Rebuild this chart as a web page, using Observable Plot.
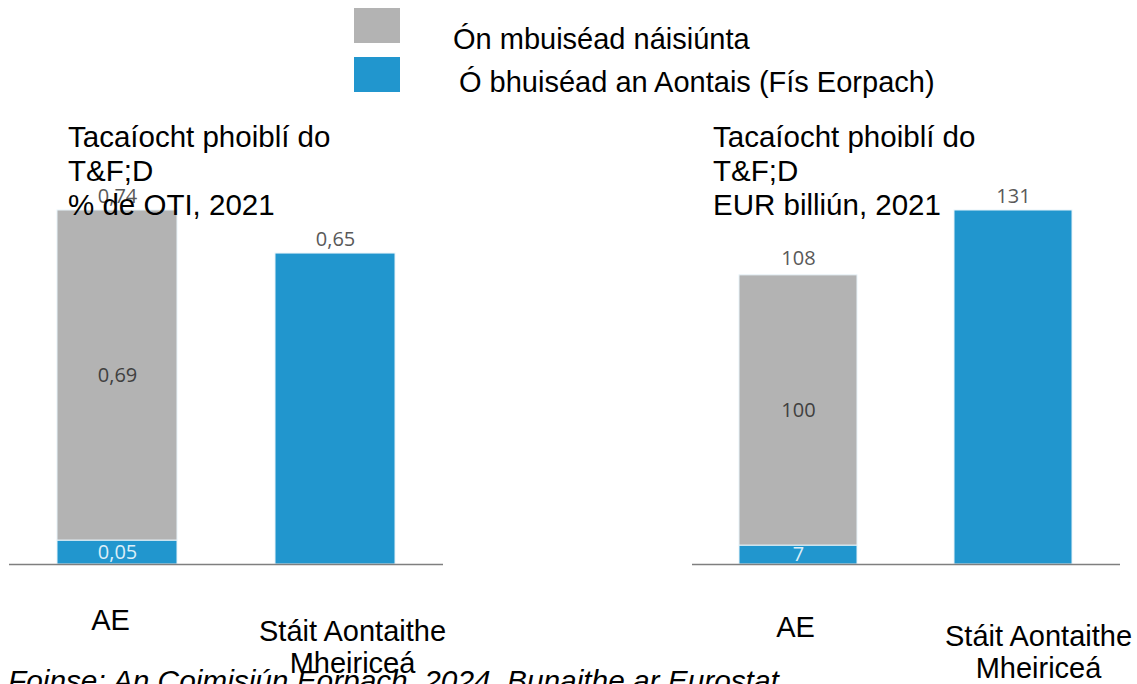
<!DOCTYPE html>
<html><head><meta charset="utf-8">
<script src="https://cdn.jsdelivr.net/npm/d3@7"></script>
<script src="https://cdn.jsdelivr.net/npm/@observablehq/plot@0.6"></script>
<style>
html,body{margin:0;padding:0;background:#fff;overflow:hidden;}
#root{position:relative;width:1137px;height:684px;overflow:hidden;font-family:"Liberation Sans",Arial,sans-serif;color:#000;}
.abs{position:absolute;white-space:pre;}
.big{font-size:29.5px;line-height:34px;z-index:3;}
.sw{position:absolute;width:46px;height:35px;}
</style></head><body><div id="root"></div>
<script>
const categories = ["AE", "Stáit Aontaithe Mheiriceá"];
const seriesNames = ["Ón mbuiséad náisiúnta", "Ó bhuiséad an Aontais (Fís Eorpach)"];
const seriesColors = ["#b3b3b3", "#2196ce"];
const pctNational = [0.69, 0];
const pctEU = [0.05, 0.65];
const pctTotal = [0.74, 0.65];
const eurNational = [100, 0];
const eurEU = [7, 131];
const eurTotal = [108, 131];
const titleLeft = ["Tacaíocht phoiblí do", "T&F;D", "% de OTI, 2021"];
const titleRight = ["Tacaíocht phoiblí do", "T&F;D", "EUR billiún, 2021"];
const sourceNote = "Foinse: An Coimisiún Eorpach, 2024. Bunaithe ar Eurostat";

const root = document.getElementById("root");
function addDiv(cls, text, left, top, extra) {
  const d = document.createElement("div");
  d.className = cls;
  d.textContent = text;
  d.style.left = left + "px";
  d.style.top = top + "px";
  if (extra) Object.assign(d.style, extra);
  root.appendChild(d);
  return d;
}

// Legend
seriesNames.forEach((s, i) => {
  const sw = document.createElement("div");
  sw.className = "sw";
  sw.style.left = "354px";
  sw.style.top = (8 + 49 * i) + "px";
  sw.style.background = seriesColors[i];
  root.appendChild(sw);
  addDiv("abs big", s, i === 0 ? 453 : 459, i === 0 ? 22 : 65, {fontSize: "29px"});
});

const fmtPct = v => v.toFixed(2).replace(".", ",");
const fmtEur = v => d3.format("d")(v);

function panel(nat, eu, tot, fmt, cfg) {
  const rows = [];
  categories.forEach((c, i) => {
    rows.push({cat: c, series: seriesNames[1], value: eu[i]});
    if (nat[i] > 0) rows.push({cat: c, series: seriesNames[0], value: nat[i]});
  });
  const multi = c => rows.filter(q => q.cat === c).length > 1;
  const inside = s => d => (multi(d.cat) && d.series === s) ? fmt(d.value) : "";
  const totals = categories.map((c, i) => ({cat: c, total: tot[i]}));
  const axisBase = {tickSize: 0, fontSize: 29, fill: "#000", label: null, fontFamily: "Liberation Sans"};
  const valueFont = {fontSize: 20, fontFamily: "Open Sans"};
  const svg = Plot.plot({
    width: cfg.width, height: 500,
    marginTop: 30, marginBottom: 116, marginLeft: cfg.ml, marginRight: cfg.mr,
    x: {domain: categories, paddingInner: 0.45, paddingOuter: 0.22, label: null},
    y: {domain: [0, d3.max(tot)], axis: null},
    color: {domain: seriesNames, range: seriesColors},
    style: {fontFamily: "Liberation Sans", background: "transparent", overflow: "visible"},
    marks: [
      Plot.barY(rows, Plot.stackY({x: "cat", y: "value", fill: "series", stroke: "#e8f3f9", strokeWidth: 1})),
      Plot.ruleY([0], {stroke: "#7f7f7f", strokeWidth: 1.5}),
      Plot.text(rows, Plot.stackY({x: "cat", y: "value", z: "series", text: inside(seriesNames[0]), fill: "#404040", ...valueFont})),
      Plot.text(rows, Plot.stackY({x: "cat", y: "value", z: "series", text: inside(seriesNames[1]), fill: "#dceef8", ...valueFont})),
      Plot.text(totals, {x: "cat", y: "total", text: d => fmt(d.total), dy: -14, fill: "#595959", ...valueFont}),
      Plot.axisX([categories[0]], {...axisBase, tickPadding: cfg.pad0, dx: cfg.dx0}),
      Plot.axisX([categories[1]], {...axisBase, tickPadding: cfg.pad1, dx: cfg.dx1, lineWidth: 9, lineHeight: 1.1})
    ]
  });
  svg.style.position = "absolute";
  svg.style.left = cfg.left + "px";
  svg.style.top = "180px";
  svg.style.zIndex = 1;
  root.appendChild(svg);
}

panel(pctNational, pctEU, pctTotal, fmtPct, {left: 0, width: 460, ml: 9, mr: 17, pad0: 45, dx0: -7, pad1: 54, dx1: 17});
panel(eurNational, eurEU, eurTotal, fmtEur, {left: 680, width: 457, ml: 12, mr: 17, pad0: 52, dx0: -3, pad1: 59, dx1: 25});

// Titles
addDiv("abs big", titleLeft.join("\n"), 68, 120);
addDiv("abs big", titleRight.join("\n"), 713, 120);
// Source
addDiv("abs big", sourceNote, 8, 664, {fontStyle: "italic", fontSize: "29.8px"});
</script>
</body></html>
